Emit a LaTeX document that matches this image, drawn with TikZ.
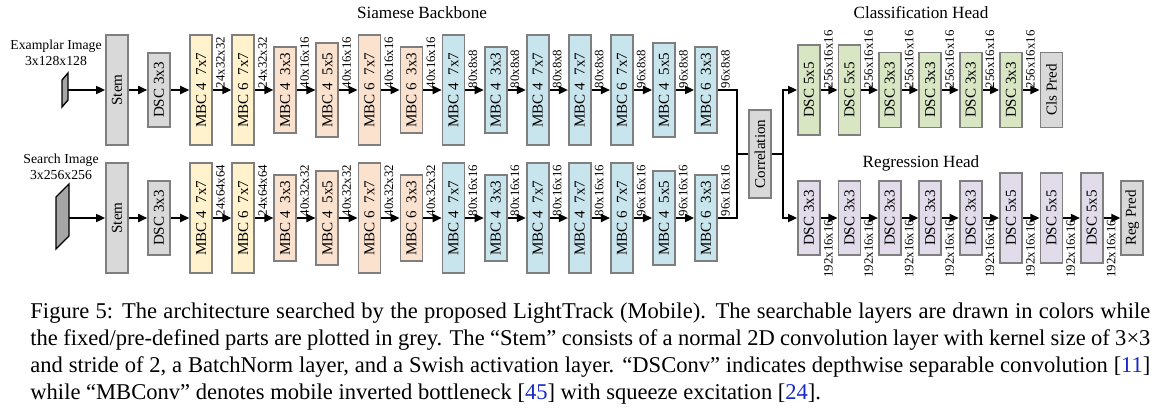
\documentclass[tikz,border=0pt]{standalone}
\usepackage{fontspec}
\setmainfont{Liberation Serif}
\usepackage{graphicx}
\usetikzlibrary{arrows.meta,positioning}

% one pixel of the layout grid
\newcommand{\pxu}{0.4436pt}

\definecolor{fixgrey}{HTML}{D9D9D9}
\definecolor{edgegrey}{HTML}{7F7F7F}
\definecolor{imggrey}{HTML}{A6A6A6}
\definecolor{mbcyel}{HTML}{FFF2CC}
\definecolor{mbcorg}{HTML}{FBE2CF}
\definecolor{mbcblu}{HTML}{C8E4EC}
\definecolor{clsgreen}{HTML}{D9E6C3}
\definecolor{regpurple}{HTML}{E1DBEA}
\definecolor{citeblue}{RGB}{25,40,200}

\tikzset{
  blk/.style={draw=edgegrey, line width=0.8pt, minimum width=22*\pxu, inner sep=1pt,
    font=\fontsize{6.7}{7}\selectfont},
  dimlab/.style={inner xsep=1.2pt, inner ysep=0.6pt, font=\fontsize{5.7}{6}\selectfont},
  arr/.style={line width=0.7pt, -{Triangle[length=4pt,width=3.6pt]}},
  conn/.style={line width=0.7pt},
  headtitle/.style={font=\fontsize{7.6}{9}\selectfont},
  imglab/.style={align=center, font=\fontsize{6.1}{7}\selectfont},
  imgshape/.style={draw=black, fill=imggrey, line width=0.6pt}
}

\begin{document}
\begin{tikzpicture}[x=\pxu, y=-\pxu]
  \useasboundingbox (0,0) rectangle (1175,410);

  % titles
  \node[headtitle] (bbtitle) at (422,13) {Siamese Backbone};
  \node[headtitle] (clstitle) at (921,13) {Classification Head};
  \node[headtitle] (regtitle) at (921,163) {Regression Head};

  % input images
  \node[imglab] (exlab) at (56,53) {Examplar Image\\3x128x128};
  \node[imglab] (selab) at (61,167) {Search Image\\3x256x256};
  \draw[imgshape] (62,80) -- (68,73) -- (68,100) -- (62,107) -- cycle;
  \draw[imgshape] (56,197) -- (69,184) -- (69,236) -- (56,249) -- cycle;
  \coordinate (eimg) at (68,90);
  \coordinate (simg) at (69,218);

  % backbone, exemplar branch (e) and search branch (s)
  \foreach \br/\y in {e/90, s/218}{
    \foreach \bname/\bfill/\bhgt [count=\i from 0] in {
      Stem/fixgrey/110, DSC 3x3/fixgrey/74,
      MBC 4~~7x7/mbcyel/110, MBC 6~~7x7/mbcyel/110,
      MBC 4~~3x3/mbcorg/86, MBC 4~~5x5/mbcorg/94, MBC 6~~7x7/mbcorg/110, MBC 6~~3x3/mbcorg/86,
      MBC 4~~7x7/mbcblu/110, MBC 4~~3x3/mbcblu/86, MBC 4~~7x7/mbcblu/110, MBC 4~~7x7/mbcblu/110,
      MBC 6~~7x7/mbcblu/110, MBC 4~~5x5/mbcblu/94, MBC 6~~3x3/mbcblu/86}
      \node[blk, fill=\bfill, minimum height=\bhgt*\pxu] (\br\i) at ({117+42.07*\i},\y)
        {\rotatebox{90}{\bname}};
    \foreach \i in {0,...,13}{
      \pgfmathtruncatemacro\j{\i+1}
      \draw[arr] (\br\i.east) -- (\br\j.west);
    }
  }
  \draw[arr] (eimg) -- (e0.west);
  \draw[arr] (simg) -- (s0.west);

  % feature sizes
  \foreach \i/\d in {2/24x32x32, 3/24x32x32, 4/40x16x16, 5/40x16x16, 6/40x16x16, 7/40x16x16,
      8/80x8x8, 9/80x8x8, 10/80x8x8, 11/80x8x8, 12/96x8x8, 13/96x8x8, 14/96x8x8}
    \node[dimlab, anchor=south west] (ed\i) at (e\i.east) {\rotatebox{90}{\d}};
  \foreach \i/\d in {2/24x64x64, 3/24x64x64, 4/40x32x32, 5/40x32x32, 6/40x32x32, 7/40x32x32,
      8/80x16x16, 9/80x16x16, 10/80x16x16, 11/80x16x16, 12/96x16x16, 13/96x16x16, 14/96x16x16}
    \node[dimlab, anchor=south west] (sd\i) at (s\i.east) {\rotatebox{90}{\d}};

  % correlation
  \node[blk, fill=fixgrey, minimum height=88*\pxu] (corr) at (760,154) {\rotatebox{90}{Correlation}};
  \coordinate (join) at (737,154);
  \coordinate (split) at (783,154);
  \draw[conn] (e14.east) -| (join) -- (corr.west);
  \draw[conn] (s14.east) -| (join);
  \draw[conn] (corr.east) -- (split);

  % classification head
  \foreach \bname/\bfill/\bhgt [count=\i from 0] in {
    DSC 5x5/clsgreen/90, DSC 5x5/clsgreen/90, DSC 3x3/clsgreen/75, DSC 3x3/clsgreen/75,
    DSC 3x3/clsgreen/75, DSC 3x3/clsgreen/75, Cls Pred/fixgrey/75}
    \node[blk, fill=\bfill, minimum height=\bhgt*\pxu] (c\i) at ({809+40.4*\i},90)
      {\rotatebox{90}{\bname}};
  \foreach \i in {0,...,5}{
    \pgfmathtruncatemacro\j{\i+1}
    \draw[arr] (c\i.east) -- (c\j.west);
    \node[dimlab, anchor=south west] (cd\i) at (c\i.east) {\rotatebox{90}{256x16x16}};
  }

  % regression head
  \foreach \bname/\bfill/\bhgt [count=\i from 0] in {
    DSC 3x3/regpurple/74, DSC 3x3/regpurple/74, DSC 3x3/regpurple/74, DSC 3x3/regpurple/74,
    DSC 3x3/regpurple/74, DSC 5x5/regpurple/90, DSC 5x5/regpurple/90, DSC 5x5/regpurple/90,
    Reg Pred/fixgrey/74}
    \node[blk, fill=\bfill, minimum height=\bhgt*\pxu] (r\i) at ({809+40.4*\i},218)
      {\rotatebox{90}{\bname}};
  \foreach \i in {0,...,7}{
    \pgfmathtruncatemacro\j{\i+1}
    \draw[arr] (r\i.east) -- (r\j.west);
    \node[dimlab, anchor=north west] (rd\i) at (r\i.east) {\rotatebox{90}{192x16x16}};
  }

  \draw[arr] (split) |- (c0.west);
  \draw[arr] (split) |- (r0.west);

  % caption
  \node[anchor=north west, inner sep=0pt, text width=496.8pt, align=justify,
    font=\fontsize{10}{12}\selectfont] (caption) at (30,302)
    {Figure 5: The architecture searched by the proposed LightTrack (Mobile). The searchable layers are drawn in colors while\linebreak
     the fixed/pre-defined parts are plotted in grey. The “Stem” consists of a normal 2D convolution layer with kernel size of 3×3\linebreak
     and stride of 2, a BatchNorm layer, and a Swish activation layer. “DSConv” indicates depthwise separable convolution [\textcolor{citeblue}{11}]\linebreak
     while “MBConv” denotes mobile inverted bottleneck [\textcolor{citeblue}{45}] with squeeze excitation [\textcolor{citeblue}{24}].};
\end{tikzpicture}
\end{document}
